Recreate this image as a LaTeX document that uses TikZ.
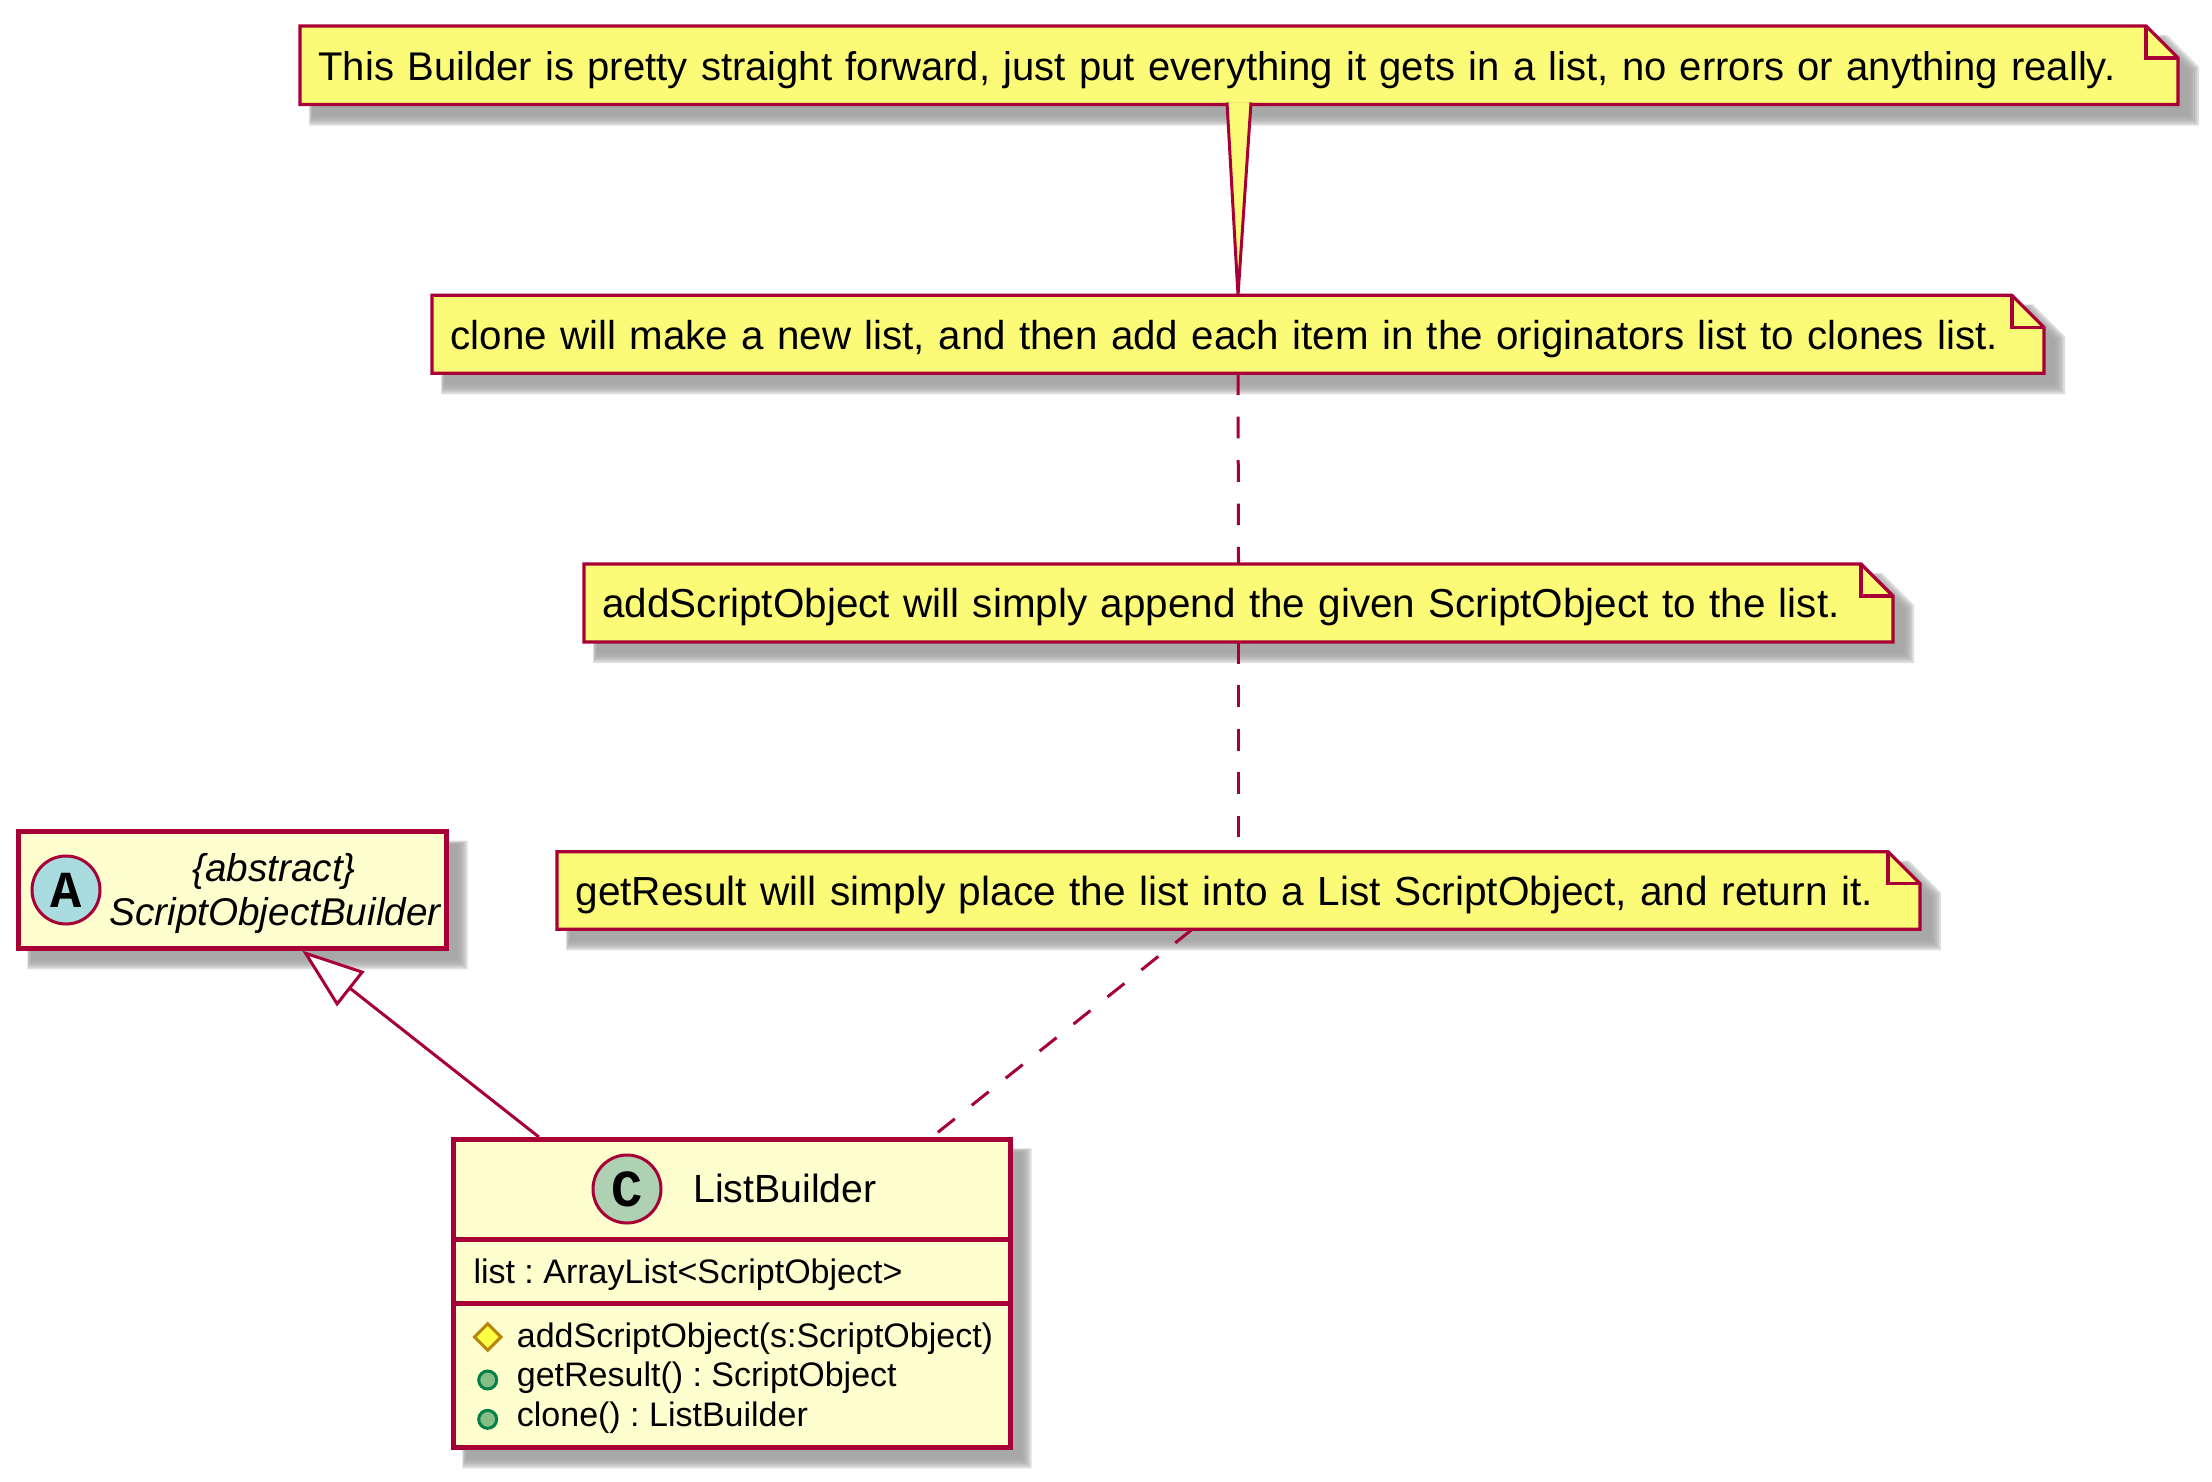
\documentclass[tikz,border=0pt]{standalone}
\usepackage{fontspec}
\setmainfont{Liberation Sans}
\newfontfamily\markfont{Liberation Mono}
\usetikzlibrary{arrows.meta}
\definecolor{umlborder}{HTML}{A80036}
\definecolor{classfill}{HTML}{FEFECE}
\definecolor{notefill}{HTML}{FBFB77}
\definecolor{abstractfill}{HTML}{A9DCDF}
\definecolor{concretefill}{HTML}{ADD1B2}
\definecolor{protectedfill}{HTML}{FFFF44}
\definecolor{protectededge}{HTML}{B8860B}
\definecolor{publicfill}{HTML}{84BE84}
\definecolor{publicedge}{HTML}{038048}
\tikzset{
  classbox/.style = {draw = umlborder, fill = classfill, line width = 4.6pt, rectangle, inner sep = 0pt, outer sep = 2.25pt},
  classmark/.style = {circle, draw = umlborder, line width = 3pt, minimum size = 68pt, inner sep = 0pt, font = \markfont\bfseries\fontsize{52}{52}\selectfont},
  member/.style = {anchor = base west, inner sep = 0pt, font = \frenchspacing\fontsize{34}{40}\selectfont},
  titletext/.style = {anchor = base west, inner sep = 0pt, font = \fontsize{39.3}{44}\selectfont},
  abstracttext/.style = {anchor = base, inner sep = 0pt, font = \itshape\fontsize{38.7}{44}\selectfont},
  notetext/.style = {rectangle, inner sep = 0pt, outer sep = 0pt, align = left, text height = 37pt, text depth = 7.5pt},
  noteline/.style = {draw = umlborder, line width = 3.2pt},
  dashline/.style = {draw = umlborder, line width = 3pt, dash pattern = on 21.7pt off 21.7pt},
  publicdot/.style = {circle, fill = publicfill, draw = publicedge, line width = 3pt, minimum size = 18pt, inner sep = 0pt}
}
% x1, y1, x2, y2, size of the cut corner
\newcommand{\softshadow}[5]{
  \foreach \g in {10,8,6,4,2,0} \fill[black!37, opacity = 0.35] ({#1+9+(10-\g)*0.4},{#2+9+(10-\g)*0.4}) -- ({#3+11+\g-#5},{#2+9+(10-\g)*0.4}) -- ({#3+11+\g},{#2+9+(10-\g)*0.4+#5}) -- ({#3+11+\g},{#4+11+\g}) -- ({#1+9+(10-\g)*0.4},{#4+11+\g}) -- cycle;
}
% name, x1, y1, x2, y2, font size, text
\newcommand{\notebox}[7]{
  \softshadow{#2}{#3}{#4}{#5}{32}
  \draw[noteline, fill = notefill, line join = miter] (#2,#3) -- ({#4-32},#3) -- (#4,{#3+32}) -- (#4,#5) -- (#2,#5) -- cycle;
  \draw[noteline, line join = miter] ({#4-32},#3) -- ({#4-32},{#3+32}) -- (#4,{#3+32});
  \pgfmathsetlengthmacro\notew{#4-#2}
  \pgfmathsetlengthmacro\noteh{#5-#3}
  \pgfmathsetlengthmacro\notet{#4-#2-37}
  \node[notetext, minimum width = \notew, minimum height = \noteh, text width = \notet, font = \fontsize{#6}{48}\selectfont] (#1) at ({(#2+#4)/2},{(#3+#5)/2}) {\mbox{#7}};
}
\begin{document}
\begin{tikzpicture}[x = 1pt, y = -1pt]
\useasboundingbox (0,0) rectangle (2212,1481);
\notebox{builderNote}{300}{26}{2178}{104.5}{40.03}{This Builder is pretty straight forward, just put everything it gets in a list, no errors or anything really.}
\notebox{cloneNote}{432}{295.3}{2044}{373.3}{40.3}{clone will make a new list, and then add each item in the originators list to clones list.}
\notebox{addNote}{584}{564}{1893}{642}{40.4}{addScriptObject will simply append the given ScriptObject to the list.}
\notebox{resultNote}{557}{851.7}{1920}{929.3}{40.6}{getResult will simply place the list into a List ScriptObject, and return it.}
\softshadow{18.3}{831.7}{446.7}{948.3}{0}
\node[classbox, minimum width = 428.4pt, minimum height = 116.6pt] (abstractBox) at (232.5,890) {};
\node[classmark, fill = abstractfill] (abstractMark) at (66,890) {A};
\node[abstracttext] (abstractTag) at (274,881.7) {\{abstract\}};
\node[abstracttext] (abstractName) at (275,925) {ScriptObjectBuilder};
\softshadow{453.3}{1139.3}{1010.5}{1447.3}{0}
\node[classbox, minimum width = 557.2pt, minimum height = 308pt] (listBuilder) at (731.9,1293.3) {};
\draw[classbox] (listBuilder.west |- 0,1239.3) -- (listBuilder.east |- 0,1239.3);
\draw[classbox] (listBuilder.west |- 0,1303.3) -- (listBuilder.east |- 0,1303.3);
\node[classmark, fill = concretefill] (listMark) at (627,1189) {C};
\node[titletext] (listName) at (693,1202.7) {ListBuilder};
\node[member] (listAttr) at (473.3,1283.3) {list : ArrayList<ScriptObject>};
\node[member] (addMethod) at (516.7,1347.7) {addScriptObject(s:ScriptObject)};
\node[member] (resultMethod) at (516.7,1386.7) {getResult() : ScriptObject};
\node[member] (cloneMethod) at (516.7,1426.7) {clone() : ListBuilder};
\draw[line width = 3pt, draw = protectededge, fill = protectedfill] (487.7,1323.7) -- (501,1337) -- (487.7,1350.3) -- (474.4,1337) -- cycle;
\node[publicdot] (resultDot) at (487.7,1380) {};
\node[publicdot] (cloneDot) at (487.7,1419.3) {};
\fill[notefill, draw = umlborder, line width = 3pt] ([xshift = -12pt, yshift = 2pt]builderNote.south) -- (cloneNote.north) -- ([xshift = 12pt, yshift = 2pt]builderNote.south);
\draw[dashline] (cloneNote.south) -- (addNote.north);
\draw[dashline] (addNote.south) -- (resultNote.north);
\draw[dashline] (resultNote.220.8) -- (listBuilder.38.5);
\draw[noteline, line width = 3pt, -{Triangle[fill = white, length = 62pt, width = 44pt, sep = 0pt]}] (listBuilder.141.1) -- (abstractBox.319.9);
\end{tikzpicture}
\end{document}
